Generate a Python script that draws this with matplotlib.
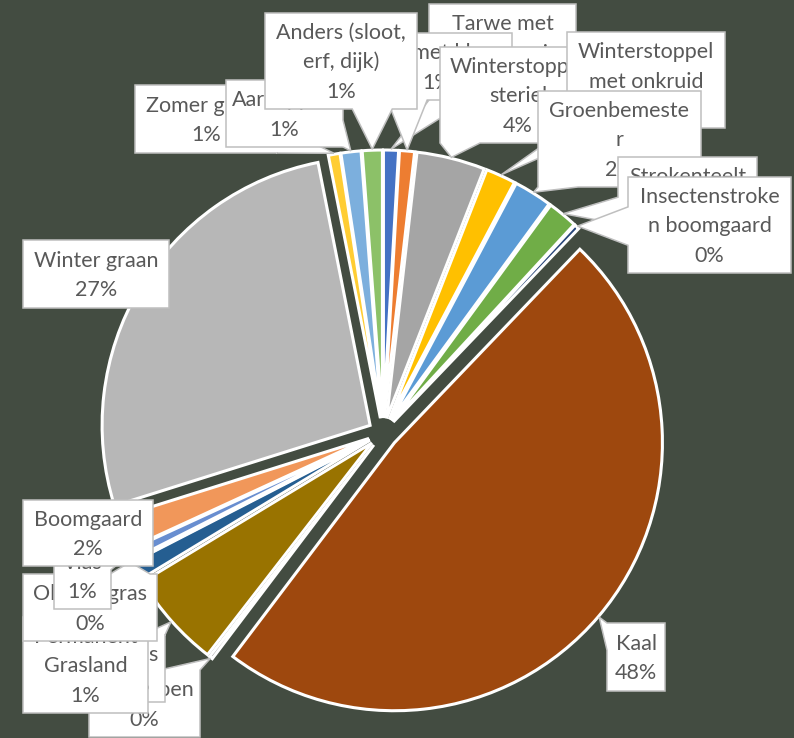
import numpy as np
import matplotlib.pyplot as plt
from matplotlib.patches import Polygon

# slices in drawing order (clockwise from 12 o'clock)
categories = [
    'Tarwe met\nonderzaai', 'Gras met klaver', 'Winterstoppel\nsteriel',
    'Winterstoppel\nmet onkruid', 'Groenbemeste\nr', 'Strokenteelt',
    'Insectenstroke\nn boomgaard', 'Kaal', 'Koolrapen', 'Mais',
    'Permanent\nGrasland', 'Olifantsgras', 'Vlas', 'Boomgaard',
    'Winter graan', 'Zomer graan', 'Aardappels', 'Anders (sloot,\nerf, dijk)',
]
values = [0.9, 0.9, 4.1, 1.8, 2.3, 1.8, 0.3, 47.9, 0.2, 5.8,
          1.1, 0.1, 0.6, 2.0, 26.6, 0.7, 1.2, 1.2]
colors = ['#4472C4', '#ED7D31', '#A5A5A5', '#FFC000', '#5B9BD5', '#70AD47',
          '#264478', '#9E480E', '#636363', '#997300', '#255E91', '#43682B',
          '#698ED0', '#F1975A', '#B7B7B7', '#FFCD33', '#7CAFDD', '#8CC168']

# label boxes in pixels from the top-left corner: x0, y0, x1, y1
boxes = [
    (429, 4, 576, 100), (362, 33, 512, 100), (440, 47, 596, 143),
    (567, 32, 725, 128), (538, 91, 701, 187), (618, 157, 757, 224),
    (628, 177, 791, 273), (607, 623, 665, 691), (89, 670, 200, 737),
    (107, 635, 165, 702), (23, 617, 148, 713), (23, 574, 157, 641),
    (54, 543, 111, 609), (23, 500, 153, 566), (23, 240, 169, 308),
    (135, 85, 277, 153), (226, 80, 343, 147), (265, 13, 417, 109),
]

BG = '#434C41'
FONT = ['Lato', 'DejaVu Sans']
FS = 15.5
PITCH = 29.3


def callout(x0, y0, x1, y1, tip):
    tx, ty = tip
    rect = [(x0, y0), (x1, y0), (x1, y1), (x0, y1)]
    if x0 - 2 <= tx <= x1 + 2 and y0 - 2 <= ty <= y1 + 2:
        return rect
    cx, cy = (x0 + x1) / 2, (y0 + y1) / 2
    nx = (tx - cx) / ((x1 - x0) / 2)
    ny = (ty - cy) / ((y1 - y0) / 2)
    if abs(nx) > abs(ny):
        b = min(40, 0.4 * (y1 - y0))
        s = float(np.clip(ty - b / 2, y0, y1 - b))
        if nx > 0:
            return [(x0, y0), (x1, y0), (x1, s), (tx, ty), (x1, s + b), (x1, y1), (x0, y1)]
        return [(x0, y0), (x1, y0), (x1, y1), (x0, y1), (x0, s + b), (tx, ty), (x0, s)]
    b = min(40, 0.4 * (x1 - x0))
    s = float(np.clip(tx - b / 2, x0, x1 - b))
    if ny > 0:
        return [(x0, y0), (x1, y0), (x1, y1), (s + b, y1), (tx, ty), (s, y1), (x0, y1)]
    return [(x0, y0), (s, y0), (tx, ty), (s + b, y0), (x1, y0), (x1, y1), (x0, y1)]


fig = plt.figure(figsize=(7.94, 7.38), dpi=100, facecolor=BG)
ax = fig.add_axes([0, 0, 1, 1])
ax.set_facecolor(BG)

wedges, _ = ax.pie(values, colors=colors, startangle=-90, counterclock=True,
                   center=(383, 433), radius=268, explode=[15] * len(values),
                   wedgeprops=dict(edgecolor='white', linewidth=2.2))
ax.set_xlim(0, 794)
ax.set_ylim(738, 0)
ax.set_aspect('equal')
ax.axis('off')

total = sum(values)
for i, (name, v, w, box) in enumerate(zip(categories, values, wedges, boxes)):
    mid = np.deg2rad((w.theta1 + w.theta2) / 2)
    cx, cy = w.center
    tip = (cx + (w.r + 1) * np.cos(mid), cy + (w.r + 1) * np.sin(mid))
    x0, y0, x1, y1 = box
    ax.add_patch(Polygon(callout(x0, y0, x1, y1, tip), closed=True,
                         facecolor='white', edgecolor='#BFBFBF', linewidth=1.1,
                         zorder=10 + 2 * i, clip_on=False))
    lines = name.split('\n') + [f'{round(v / total * 100)}%']
    n = len(lines)
    bx, by = (x0 + x1) / 2, (y0 + y1) / 2
    for j, line in enumerate(lines):
        y = by + (j - (n - 1) / 2) * PITCH + 7.5
        ax.text(bx, y, line, ha='center', va='baseline', fontsize=FS,
                family=FONT, color='#595959', zorder=11 + 2 * i)

fig.savefig('out.png', dpi=100, facecolor=BG)
